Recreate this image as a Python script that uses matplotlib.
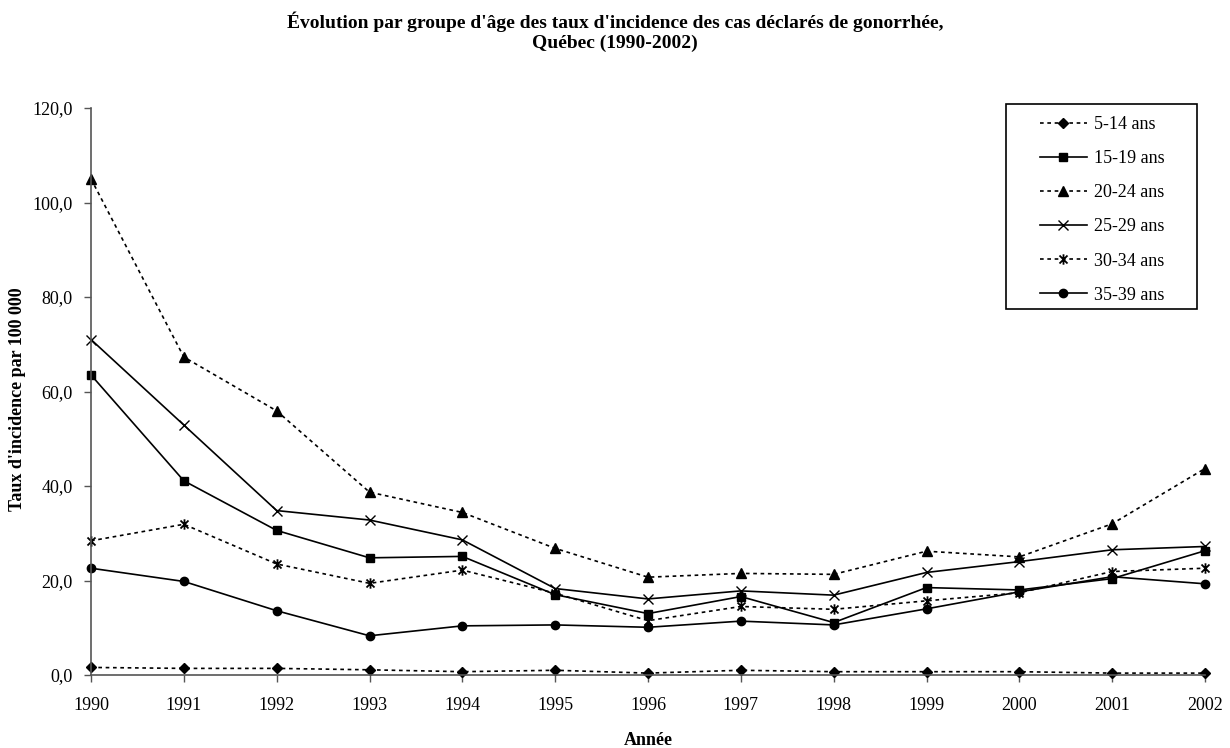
import matplotlib
matplotlib.use("Agg")
import matplotlib.pyplot as plt
from matplotlib.path import Path
from matplotlib.patches import Rectangle
from matplotlib.ticker import FuncFormatter

years = [1990, 1991, 1992, 1993, 1994, 1995, 1996, 1997, 1998, 1999, 2000, 2001, 2002]
age_5_14 = [1.6, 1.4, 1.4, 1.1, 0.7, 1.0, 0.4, 1.0, 0.7, 0.7, 0.7, 0.4, 0.4]
age_15_19 = [63.5, 41.1, 30.6, 24.8, 25.1, 17.0, 13.0, 16.6, 11.1, 18.5, 18.0, 20.4, 26.3]
age_20_24 = [105.0, 67.3, 55.9, 38.7, 34.4, 26.8, 20.7, 21.5, 21.3, 26.2, 25.0, 32.0, 43.7]
age_25_29 = [71.0, 52.9, 34.8, 32.8, 28.6, 18.3, 16.1, 17.8, 16.9, 21.7, 24.0, 26.5, 27.2]
age_30_34 = [28.4, 31.9, 23.5, 19.4, 22.2, 17.3, 11.5, 14.5, 13.9, 15.7, 17.4, 21.9, 22.6]
age_35_39 = [22.6, 19.8, 13.6, 8.3, 10.4, 10.6, 10.1, 11.4, 10.6, 14.0, 17.6, 20.8, 19.3]

labels = ["5-14 ans", "15-19 ans", "20-24 ans", "25-29 ans", "30-34 ans", "35-39 ans"]
series = [age_5_14, age_15_19, age_20_24, age_25_29, age_30_34, age_35_39]
y_ticks = [0, 20, 40, 60, 80, 100, 120]

title_text = "Évolution par groupe d'âge des taux d'incidence des cas déclarés de gonorrhée,\nQuébec (1990-2002)"
x_label = "Année"
y_label = "Taux d'incidence par 100 000"

plt.rcParams['font.family'] = ['Liberation Serif', 'DejaVu Serif']

# asterisk marker: x with vertical bar
star_path = Path(
    [(-1, -1), (1, 1), (-1, 1), (1, -1), (0, -1.3), (0, 1.3)],
    [Path.MOVETO, Path.LINETO, Path.MOVETO, Path.LINETO, Path.MOVETO, Path.LINETO],
)

dotted = (0, (2.2, 2.2))
styles = [
    dict(linestyle=dotted, marker='D', markersize=5.0),
    dict(linestyle='-', marker='s', markersize=6.0),
    dict(linestyle=dotted, marker='^', markersize=7.0),
    dict(linestyle='-', marker='x', markersize=6.5, markeredgewidth=1.0),
    dict(linestyle=dotted, marker=star_path, markersize=7.5, markeredgewidth=1.3, fillstyle='none'),
    dict(linestyle='-', marker='o', markersize=6.0),
]

W, H = 1230, 748
fig = plt.figure(figsize=(W / 100, H / 100), dpi=100)
ax = fig.add_axes([91 / W, 1 - 675 / H, (1205 - 91) / W, (675 - 108) / H])

handles = []
for vals, lab, st in zip(series, labels, styles):
    h, = ax.plot(years, vals, color='black', linewidth=1.2, label=lab,
                 markerfacecolor='black', markeredgecolor='black', clip_on=False, **st)
    handles.append(h)

ax.set_xlim(years[0], years[-1])
ax.set_ylim(0, 120)
ax.set_xticks(years)
ax.set_yticks(y_ticks)
ax.yaxis.set_major_formatter(FuncFormatter(lambda v, p: f"{v:.1f}".replace('.', ',')))
for s in ['top', 'right']:
    ax.spines[s].set_visible(False)
for s in ['left', 'bottom']:
    ax.spines[s].set_color('#555555')
    ax.spines[s].set_linewidth(1.2)
ax.tick_params(axis='both', direction='out', length=5, width=1.0, color='#555555',
               labelsize=13, pad=8)
ax.tick_params(axis='x', pad=11)

ax.set_xlabel(x_label, fontsize=13, fontweight='bold', labelpad=13)
fig.text(18 / W, 1 - 399 / H, y_label, rotation=90, ha='center', va='center',
         fontsize=13, fontweight='bold')

fig.text(0.5, 1 - 32 / H, title_text, ha='center', va='center', fontsize=14,
         fontweight='bold', linespacing=1.22)

leg = fig.legend(handles=handles, labels=labels, loc='upper left',
                 bbox_to_anchor=(1040 / W, 1 - 116 / H), frameon=False,
                 fontsize=13, handlelength=2.6, handletextpad=0.4,
                 labelspacing=0.95, borderpad=0.0, borderaxespad=0.0)
fig.add_artist(Rectangle((1006 / W, 1 - 309 / H), (1197 - 1006) / W, (309 - 104) / H,
                         transform=fig.transFigure, fill=False, edgecolor='black',
                         linewidth=1.2))

fig.savefig("out.png", dpi=100)
